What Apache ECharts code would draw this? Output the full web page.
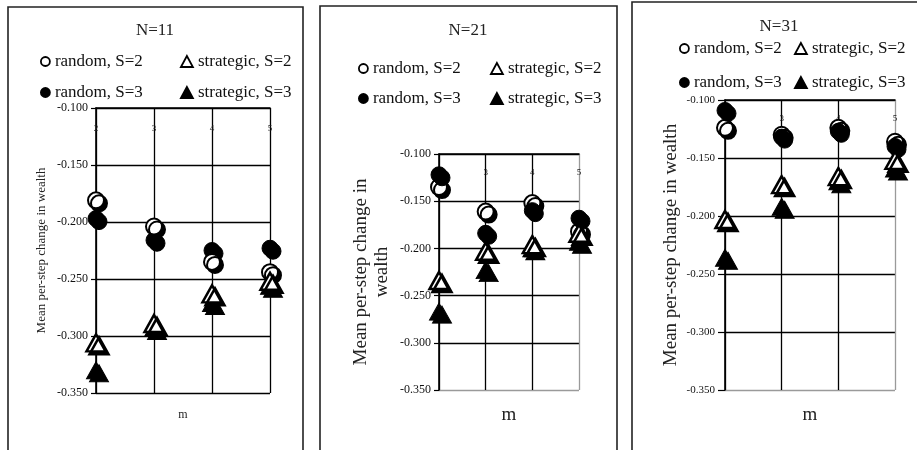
<!DOCTYPE html>
<html>
<head>
<meta charset="utf-8">
<script src="https://cdn.jsdelivr.net/npm/echarts@6/dist/echarts.min.js"></script>
<style>
  html, body { margin: 0; padding: 0; background: #fff; }
  #chart { width: 917px; height: 450px; }
</style>
</head>
<body>
<div id="chart"></div>
<script>
// Number of strategies in memory (m), shared by every panel
const mValues = [2, 3, 4, 5];

// N = 11
const n11RandomS2 = [-0.181, -0.204, -0.235, -0.244];
const n11RandomS3 = [-0.197, -0.216, -0.225, -0.223];
const n11StrategicS2 = [-0.306, -0.289, -0.263, -0.252];
const n11StrategicS3 = [-0.330, -0.293, -0.271, -0.256];

// N = 21
const n21RandomS2 = [-0.135, -0.161, -0.152, -0.182];
const n21RandomS3 = [-0.122, -0.184, -0.160, -0.168];
const n21StrategicS2 = [-0.234, -0.203, -0.196, -0.184];
const n21StrategicS3 = [-0.267, -0.223, -0.200, -0.193];

// N = 31
const n31RandomS2 = [-0.124, -0.130, -0.124, -0.136];
const n31RandomS3 = [-0.109, -0.132, -0.127, -0.140];
const n31StrategicS2 = [-0.203, -0.173, -0.166, -0.152];
const n31StrategicS3 = [-0.236, -0.192, -0.170, -0.159];

// Axis range and labels
const yMin = -0.35, yMax = -0.10, yStep = 0.05;
const xMin = 2, xMax = 5, xStep = 1;
const panelTitles = ['N=11', 'N=21', 'N=31'];
const yAxisTitles = ['Mean per-step change in wealth', 'Mean per-step change in\nwealth', 'Mean per-step change in wealth'];
const xAxisTitle = 'm';
const seriesNames = ['random, S=2', 'random, S=3', 'strategic, S=2', 'strategic, S=3'];

const FONT = '"Liberation Serif", "Times New Roman", Times, serif';

const panelData = [
  { rs2: n11RandomS2, rs3: n11RandomS3, ss2: n11StrategicS2, ss3: n11StrategicS3 },
  { rs2: n21RandomS2, rs3: n21RandomS3, ss2: n21StrategicS2, ss3: n21StrategicS3 },
  { rs2: n31RandomS2, rs3: n31RandomS3, ss2: n31StrategicS2, ss3: n31StrategicS3 }
];

// Layout of each framed panel
const layout = [
  { frame: [8, 7, 295, 470], grid: { left: 96, top: 108, width: 174, height: 285 },
    edge: '#000', yLabelSize: 12, yLabelMargin: 8, yTick: 5, xLabelSize: 9, xLabelMargin: 16,
    yNameSize: 13, yNameGap: 47, yNameLine: 15, mSize: 12, mTop: 409,
    titleX: 155, titleTop: 22, legendRows: [53, 84], legendCols: [40, 180],
    order: ['rs3', 'rs2', 'ss3', 'ss2'] },
  { frame: [320, 6, 297, 470], grid: { left: 439, top: 154, width: 140, height: 236 },
    edge: '#9a9a9a', yLabelSize: 12, yLabelMargin: 8, yTick: 5, xLabelSize: 9, xLabelMargin: 14,
    yNameSize: 19, yNameGap: 46, yNameLine: 21, mSize: 19, mTop: 406,
    titleX: 468, titleTop: 22, legendRows: [60, 90], legendCols: [358, 490],
    order: ['rs2', 'rs3', 'ss3', 'ss2'] },
  { frame: [632, 2, 300, 470], grid: { left: 725, top: 100, width: 170, height: 290 },
    edge: '#9a9a9a', yLabelSize: 11, yLabelMargin: 10, yTick: 7, xLabelSize: 9, xLabelMargin: 14,
    yNameSize: 19, yNameGap: 43, yNameLine: 21, mSize: 19, mTop: 406,
    titleX: 779, titleTop: 18, legendRows: [40, 74], legendCols: [679, 794],
    order: ['rs2', 'rs3', 'ss3', 'ss2'] }
];

const shadow = { shadowColor: '#000', shadowBlur: 0, shadowOffsetX: 3, shadowOffsetY: 3, opacity: 1 };
const markerStyle = {
  rs2: { name: seriesNames[0], symbol: 'circle', symbolSize: 16,
         itemStyle: Object.assign({ color: '#fff', borderColor: '#000', borderWidth: 2 }, shadow) },
  rs3: { name: seriesNames[1], symbol: 'circle', symbolSize: 16,
         itemStyle: Object.assign({ color: '#000', borderColor: '#000', borderWidth: 1 }, shadow) },
  ss2: { name: seriesNames[2], symbol: 'triangle', symbolSize: [19, 17],
         itemStyle: Object.assign({ color: '#fff', borderColor: '#000', borderWidth: 2.5 }, shadow) },
  ss3: { name: seriesNames[3], symbol: 'triangle', symbolSize: [19, 17],
         itemStyle: Object.assign({ color: '#000', borderColor: '#000', borderWidth: 1 }, shadow) }
};

const grids = [], xAxes = [], yAxes = [], series = [], titles = [], legends = [], frames = [];

layout.forEach((p, i) => {
  grids.push(Object.assign({ containLabel: false }, p.grid));

  xAxes.push({
    type: 'value', gridIndex: i, position: 'top', min: xMin, max: xMax, interval: xStep,
    axisLine: { show: true, onZero: false, lineStyle: { color: '#000', width: 1.6 } },
    axisTick: { show: false },
    axisLabel: { inside: true, margin: p.xLabelMargin, fontSize: p.xLabelSize, fontFamily: FONT, color: '#222' },
    splitLine: { show: true, showMinLine: true, showMaxLine: true,
                 lineStyle: { color: ['#000', '#000', '#000', p.edge], width: 1.3 } }
  });

  yAxes.push({
    type: 'value', gridIndex: i, position: 'left', min: yMin, max: yMax, interval: yStep,
    name: yAxisTitles[i], nameLocation: 'middle', nameGap: p.yNameGap,
    nameTextStyle: { fontSize: p.yNameSize, fontFamily: FONT, color: '#222', lineHeight: p.yNameLine },
    axisLine: { show: true, onZero: false, lineStyle: { color: '#000', width: 1.6 } },
    axisTick: { show: true, length: p.yTick, lineStyle: { color: '#000', width: 1.2 } },
    axisLabel: { margin: p.yLabelMargin, fontSize: p.yLabelSize, fontFamily: FONT, color: '#111',
                 formatter: v => v.toFixed(3) },
    splitLine: { show: true, showMinLine: true, showMaxLine: true,
                 lineStyle: { color: [p.edge, '#000', '#000', '#000', '#000', '#000'], width: 1.3 } }
  });

  p.order.forEach(key => {
    const st = markerStyle[key];
    series.push({
      type: 'scatter', name: st.name, xAxisIndex: i, yAxisIndex: i,
      symbol: st.symbol, symbolSize: st.symbolSize, itemStyle: st.itemStyle,
      data: mValues.map((m, k) => [m, panelData[i][key][k]]),
      emphasis: { disabled: true }
    });
  });

  titles.push({
    text: panelTitles[i], left: p.titleX, top: p.titleTop, textAlign: 'center', padding: 0,
    textStyle: { fontSize: 17, fontWeight: 'normal', fontFamily: FONT, color: '#222' }
  });
  titles.push({
    text: xAxisTitle, left: p.grid.left + p.grid.width / 2, top: p.mTop, textAlign: 'center', padding: 0,
    textStyle: { fontSize: p.mSize, fontWeight: 'normal', fontFamily: FONT, color: '#222' }
  });

  // 2 x 2 legend: circles in the first column, triangles in the second
  const cells = [[seriesNames[0], 0, 0], [seriesNames[2], 0, 1], [seriesNames[1], 1, 0], [seriesNames[3], 1, 1]];
  cells.forEach(([name, r, c]) => {
    const tri = c === 1;
    legends.push({
      data: [name], left: p.legendCols[c], top: p.legendRows[r], padding: 0,
      itemWidth: tri ? 12 : 9, itemHeight: tri ? 11 : 9, selectedMode: false,
      itemStyle: { shadowBlur: 0, shadowOffsetX: 0, shadowOffsetY: 0, shadowColor: 'rgba(0,0,0,0)', borderWidth: 1.8, opacity: 1 },
      textStyle: { fontSize: 17, fontFamily: FONT, color: '#111' }
    });
  });

  frames.push({
    type: 'rect', silent: true,
    shape: { x: p.frame[0], y: p.frame[1], width: p.frame[2], height: p.frame[3] },
    style: { fill: 'none', stroke: '#222', lineWidth: 1.6 }
  });
});

const chart = echarts.init(document.getElementById('chart'), null, { renderer: 'canvas' });
chart.setOption({
  animation: false,
  backgroundColor: '#fff',
  title: titles,
  legend: legends,
  grid: grids,
  xAxis: xAxes,
  yAxis: yAxes,
  series: series,
  graphic: frames
});
</script>
</body>
</html>
